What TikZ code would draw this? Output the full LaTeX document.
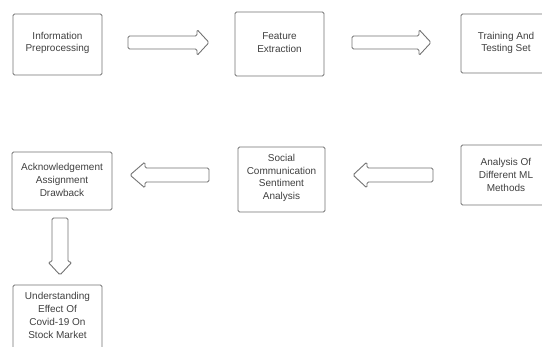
\documentclass[tikz,border=0pt]{standalone}
\usepackage{fontspec}
\setmainfont{Liberation Sans}
\begin{document}
\begin{tikzpicture}[x=1pt,y=-1pt,
  box/.style={draw=black!55, line width=0.9pt, rounded corners=1.5pt, fill=white},
  boxtext/.style={align=center, text=black!75, font=\fontsize{10}{12.8}\selectfont, inner sep=0pt},
  blockarrow/.style={draw=black!55, line width=0.9pt, rounded corners=1.5pt, fill=white}]
\useasboundingbox (0,0) rectangle (542,347);
\clip (0,0) rectangle (542,347);
% boxes
\draw[box] (13,14) rectangle (102,75);
\node[boxtext] (b1) at (57.5,43) {Information\\Preprocessing};
\draw[box] (235,12) rectangle (324,76);
\node[boxtext] (b2) at (279.5,43) {Feature\\Extraction};
\draw[box] (461,14) rectangle (552,73);
\node[boxtext] (b3) at (506,43) {Training And\\Testing Set};
\draw[box] (461,145) rectangle (552,205);
\node[boxtext] (b6) at (506,175) {Analysis Of\\Different ML\\Methods};
\draw[box] (238,147) rectangle (325,212);
\node[boxtext] (b5) at (281.5,178) {Social\\Communication\\Sentiment\\Analysis};
\draw[box] (12,152) rectangle (112,210);
\node[boxtext] (b4) at (62,180) {Acknowledgement\\Assignment\\Drawback};
\draw[box] (13,285) rectangle (102,352);
\node[boxtext] (b7) at (57.5,315.5) {Understanding\\Effect Of\\Covid-19 On\\Stock Market};
% block arrows
\draw[blockarrow] (128,36) -- (197,36) -- (197,29.5) -- (209,42.5) -- (197,55.5) -- (197,49) -- (128,49) -- cycle;
\draw[blockarrow] (352,36) -- (419,36) -- (419,29.5) -- (431,42.5) -- (419,55.5) -- (419,49) -- (352,49) -- cycle;
\draw[blockarrow] (433,168) -- (367,168) -- (367,162) -- (353,175) -- (367,188) -- (367,182) -- (433,182) -- cycle;
\draw[blockarrow] (209,168) -- (145,168) -- (145,162) -- (130,175) -- (145,188) -- (145,182) -- (209,182) -- cycle;
\draw[blockarrow] (52,218) -- (52,262) -- (48,262) -- (60,275) -- (72,262) -- (68,262) -- (68,218) -- cycle;
\end{tikzpicture}
\end{document}
